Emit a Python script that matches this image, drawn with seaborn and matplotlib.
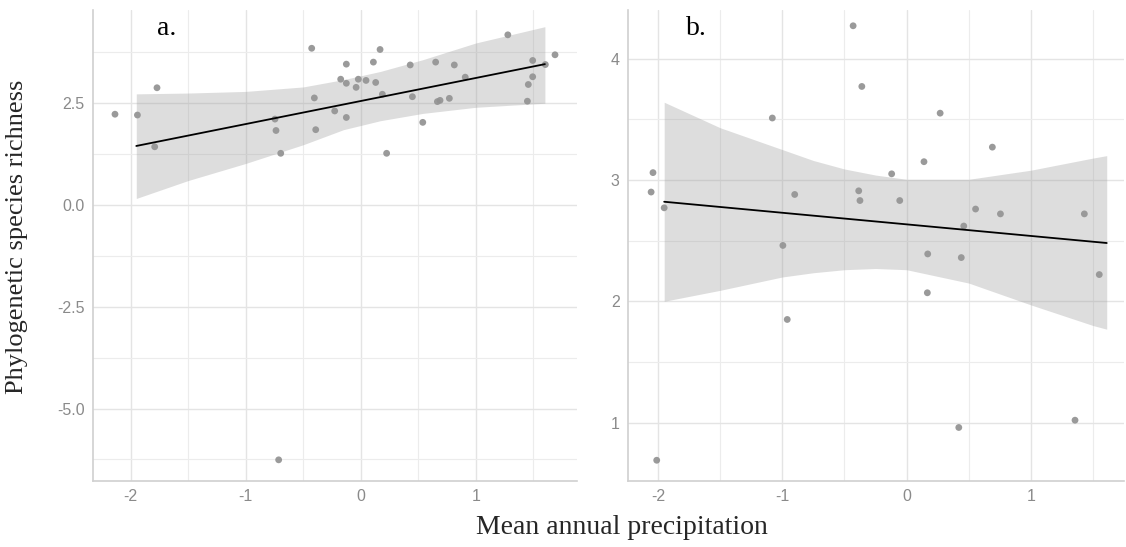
import pandas as pd
import seaborn as sns
import matplotlib.pyplot as plt

# points
a_x = [-2.135, -1.94, -1.77, -1.79, -0.745, -0.736, -0.695, -0.426, -0.403, -0.391,
       -0.226, -0.174, -0.125, -0.125, -0.125, -0.04, -0.021, 0.046, 0.11, 0.13,
       0.168, 0.188, 0.225, 0.43, 0.449, 0.539, 0.651, 0.666, 0.689, 0.77,
       0.813, 0.908, 1.278, 1.448, 1.456, 1.494, 1.494, 1.604, 1.688, -0.713]
a_y = [2.23, 2.21, 2.88, 1.43, 2.11, 1.83, 1.27, 3.85, 2.63, 1.85,
       2.31, 3.09, 3.46, 2.99, 2.15, 2.89, 3.09, 3.06, 3.51, 3.01,
       3.82, 2.72, 1.27, 3.44, 2.66, 2.03, 3.51, 2.54, 2.57, 2.62,
       3.44, 3.14, 4.18, 2.55, 2.96, 3.55, 3.15, 3.45, 3.69, -6.26]

# points
b_x = [-0.43, -0.36, -1.08, 0.27, 0.69, 0.14, -0.12, -2.04, -2.055, -1.95,
       -0.90, -0.385, -0.375, -0.055, 0.555, 0.755, 1.43, 0.46, -0.995, 0.17,
       0.44, 1.55, 0.167, -0.96, 0.42, 1.355, -2.01]
b_y = [4.27, 3.77, 3.51, 3.55, 3.27, 3.15, 3.05, 3.06, 2.90, 2.77,
       2.88, 2.91, 2.83, 2.83, 2.76, 2.72, 2.72, 2.62, 2.46, 2.39,
       2.36, 2.22, 2.07, 1.85, 0.96, 1.02, 0.69]

# fitted lines and confidence bands as drawn in the figure
a_line_x = [-1.95, 1.60]
a_line_y = [1.45, 3.46]
a_band_x = [-1.95, -1.5, -1.0, -0.5, -0.15, 0.17, 0.54, 1.0, 1.60]
a_band_hi = [2.73, 2.75, 2.79, 2.90, 3.08, 3.28, 3.57, 3.98, 4.38]
a_band_lo = [0.16, 0.60, 1.02, 1.48, 1.85, 2.07, 2.25, 2.40, 2.50]

b_line_x = [-1.95, 1.61]
b_line_y = [2.82, 2.48]
b_band_x = [-1.95, -1.5, -1.0, -0.75, -0.5, -0.25, 0.0, 0.5, 1.0, 1.5, 1.61]
b_band_hi = [3.64, 3.43, 3.25, 3.16, 3.09, 3.04, 3.005, 3.005, 3.08, 3.18, 3.20]
b_band_lo = [2.00, 2.09, 2.20, 2.235, 2.26, 2.27, 2.26, 2.15, 1.97, 1.80, 1.77]

x_ticks = [-2, -1, 0, 1]
x_minor = [-1.5, -0.5, 0.5, 1.5]
a_yticks = [-5.0, -2.5, 0.0, 2.5]
a_yminor = [-6.25, -3.75, -1.25, 1.25, 3.75]
b_yticks = [1, 2, 3, 4]
b_yminor = [1.5, 2.5, 3.5]

sns.set_theme(style="white")
plt.rcParams['font.family'] = ['Liberation Sans', 'DejaVu Sans']
plt.rcParams['axes.unicode_minus'] = False

fig = plt.figure(figsize=(11.26, 5.47), dpi=100)
ax_a = fig.add_axes([93 / 1126, 66 / 547, 484 / 1126, 471 / 547])
ax_b = fig.add_axes([628 / 1126, 66 / 547, 496 / 1126, 471 / 547])

panels = [
    (ax_a, a_x, a_y, a_line_x, a_line_y, a_band_x, a_band_lo, a_band_hi,
     a_yticks, a_yminor, (-2.326, 1.879), (-6.78, 4.79), 'a.', 0.132,
     ['-5.0', '-2.5', '0.0', '2.5']),
    (ax_b, b_x, b_y, b_line_x, b_line_y, b_band_x, b_band_lo, b_band_hi,
     b_yticks, b_yminor, (-2.241, 1.749), (0.519, 4.40), 'b.', 0.117,
     ['1', '2', '3', '4']),
]

for (ax, px, py, lx, ly, bx, blo, bhi, yt, ym, xl, yl, tag, tagx, ylabs) in panels:
    pts = pd.DataFrame({'x': px, 'y': py})
    sns.scatterplot(data=pts, x='x', y='y', ax=ax, color='#8f8f8f', s=24,
                    edgecolor='none', alpha=0.9, zorder=2)
    ax.fill_between(bx, blo, bhi, color='#999999', alpha=0.33, lw=0, zorder=3)
    fit = pd.DataFrame({'x': lx, 'y': ly})
    sns.lineplot(data=fit, x='x', y='y', ax=ax, color='black', lw=1.3, zorder=4)

    ax.set_xlim(*xl)
    ax.set_ylim(*yl)
    ax.set_xticks(x_ticks)
    ax.set_xticklabels([str(t) for t in x_ticks])
    ax.set_xticks(x_minor, minor=True)
    ax.set_yticks(yt)
    ax.set_yticklabels(ylabs)
    ax.set_yticks(ym, minor=True)
    ax.grid(True, which='major', color='#e4e4e4', lw=1.0, zorder=0)
    ax.grid(True, which='minor', color='#ececec', lw=0.8, zorder=0)
    ax.set_axisbelow(True)
    ax.tick_params(which='both', length=0, labelsize=11.5, colors='#8a8a8a', pad=6)
    ax.set_xlabel('')
    ax.set_ylabel('')
    for side in ['top', 'right']:
        ax.spines[side].set_visible(False)
    for side in ['left', 'bottom']:
        ax.spines[side].set_color('#d0d0d0')
        ax.spines[side].set_linewidth(1.2)
    ax.text(tagx, 0.947, tag, transform=ax.transAxes, fontsize=20,
            family='Liberation Serif', color='black', va='baseline')

fig.text(17 / 1126, 1 - 237 / 547, 'Phylogenetic species richness', rotation=90,
         ha='center', va='center', fontsize=19, family='Liberation Serif')
fig.text(622 / 1126, 1 - 527 / 547, 'Mean annual precipitation',
         ha='center', va='center', fontsize=20, family='Liberation Serif')

fig.savefig('out.png', dpi=100)
